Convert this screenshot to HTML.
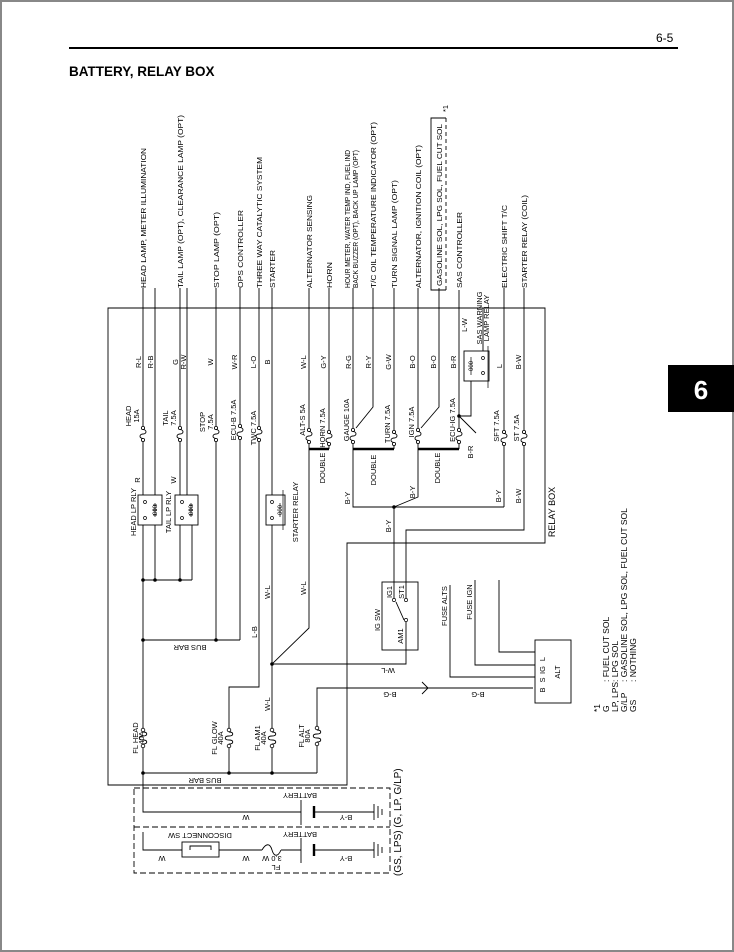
<!DOCTYPE html>
<html><head><meta charset="utf-8"><style>
html,body{margin:0;padding:0;background:#fff;}
svg{display:block;}
text{font-family:"Liberation Sans",Arial,sans-serif;font-size:7.5px;fill:#000;}
</style></head><body>
<svg width="734" height="952" viewBox="0 0 734 952" xmlns="http://www.w3.org/2000/svg">
<defs>
<g id="fz"><rect x="-3" y="-7" width="6" height="14" fill="#fff"/><circle cx="0" cy="-6" r="1.6" fill="#fff" stroke="#000" stroke-width="0.8"/><circle cx="0" cy="6" r="1.6" fill="#fff" stroke="#000" stroke-width="0.8"/><path d="M0,-4.4 C4,-4.4 4,0 0,0 C-4,0 -4,4.4 0,4.4" fill="none" stroke="#000" stroke-width="0.9"/></g>
<g id="fl"><rect x="-3" y="-9" width="6" height="18" fill="#fff"/><circle cx="0" cy="-8" r="1.8" fill="#fff" stroke="#000" stroke-width="0.8"/><circle cx="0" cy="8" r="1.8" fill="#fff" stroke="#000" stroke-width="0.8"/><path d="M0,-6 C5,-6 5,-2 0,-2 C-5,-2 -5,2 0,2 C5,2 5,6 0,6" fill="none" stroke="#000" stroke-width="0.9"/></g>
</defs>
<rect x="1" y="1" width="732" height="950" fill="none" stroke="#888" stroke-width="2"/>
<line x1="69" y1="48" x2="678" y2="48" stroke="#000" stroke-width="2"/>
<text x="656" y="42" style="font-size:12px">6-5</text>
<text x="69" y="76" style="font-size:13.5px;font-weight:bold">BATTERY, RELAY BOX</text>
<rect x="668" y="365" width="66" height="47" fill="#000"/>
<text x="701" y="399" text-anchor="middle" style="font-size:26px;font-weight:bold;fill:#fff">6</text>

<g fill="none" stroke="#000" stroke-width="0.9">
<path d="M545,308 H108 V785 H347 V543 H545 Z"/>
<path d="M143,288 V495 M143,525 V812 H301"/>
<path d="M155,288 V495 M155,525 V580"/>
<path d="M180,288 V495 M180,525 V580"/>
<path d="M187,288 V495 M192,525 V580"/>
<path d="M143,580 H192"/>
<path d="M216,288 V640"/>
<path d="M240,288 V640"/>
<path d="M143,640 H240"/>
<path d="M259,288 V687 H229 V773"/>
<path d="M272,288 V495 M272,525 V773"/>
<path d="M309,288 V628 L272,664 H406 V650"/>
<path d="M317,773 V688 H533"/>
<path d="M422,682 L428,688 L422,694"/>
<path d="M143,773 H317"/>
<path d="M329,288 V449"/>
<path d="M353,288 V507 H504"/>
<path d="M373,288 V407 L356,428"/>
<path d="M394,288 V449"/>
<path d="M418,288 V497 L394,507 V582"/>
<path d="M439,288 V407 L421,428"/>
<path d="M459,290 V449"/>
<path d="M471,381 V416 H459 M459,416 L476,433"/>
<path d="M483,308 V351"/>
<path d="M504,288 V507"/>
<path d="M524,288 V530 H406 V582"/>
<path d="M450,585 V677 H535 M475,580 V665 H535 M499,580 V652 H535"/>
<rect x="138" y="495" width="24" height="30"/>
<rect x="175" y="495" width="23" height="30"/>
<rect x="266" y="495" width="19" height="30"/>
<rect x="464" y="351" width="25" height="30"/>
<rect x="382" y="582" width="36" height="68"/>
<path d="M394,582 V598 M406,582 V598 M396,602 L404,620 M406,622 V650"/>
<rect x="535" y="640" width="36" height="63"/>
<path d="M446,118 H431 V290 H446"/>
<path d="M446,118 V290" stroke-dasharray="4,3"/>
<path d="M134,788 H390 V873 H134 Z M134,827 H390" stroke-dasharray="6,3"/>
<path d="M301,800 V825 M314,812 H374 M374,804 V820 M378,806 V818 M382,809 V815"/>
<path d="M143,832 V850 H182 M219,850 H262 M281,850 H301 M301,838 V863 M314,850 H374 M374,842 V858 M378,844 V856 M382,847 V853"/>
<rect x="182" y="842" width="37" height="15"/>
<path d="M190,850 V846 H211 V850"/>
<path d="M262,850 C266,843 270,843 272,850 C274,857 278,857 281,850"/>
</g>
<g stroke="#000" stroke-width="2.4">
<line x1="309" y1="449" x2="329" y2="449"/><line x1="353" y1="449" x2="394" y2="449"/><line x1="418" y1="449" x2="459" y2="449"/>
<line x1="314" y1="806" x2="314" y2="818"/><line x1="314" y1="844" x2="314" y2="856"/>
</g>
<g fill="#000">
<circle cx="143" cy="580" r="1.8"/><circle cx="155" cy="580" r="1.8"/><circle cx="180" cy="580" r="1.8"/>
<circle cx="143" cy="640" r="1.8"/><circle cx="216" cy="640" r="1.8"/>
<circle cx="272" cy="664" r="1.8"/><circle cx="394" cy="507" r="1.8"/><circle cx="459" cy="416" r="1.8"/>
<circle cx="143" cy="773" r="1.8"/><circle cx="229" cy="773" r="1.8"/><circle cx="272" cy="773" r="1.8"/>
</g>
<g fill="none" stroke="#000" stroke-width="0.7">
<circle cx="145" cy="502" r="1.5"/><circle cx="145" cy="518" r="1.5"/><path d="M155,503 V517"/><path d="M153,505 h4 M153,510 h4 M153,515 h4"/>
<circle cx="182" cy="502" r="1.5"/><circle cx="182" cy="518" r="1.5"/><path d="M191,503 V517"/><path d="M189,505 h4 M189,510 h4 M189,515 h4"/>
<circle cx="272" cy="502" r="1.5"/><circle cx="272" cy="518" r="1.5"/><path d="M280,503 V517 M283,490 V530"/>
<circle cx="483" cy="358" r="1.5"/><circle cx="483" cy="373" r="1.5"/><path d="M471,357 V375 M488,346 V388"/>
<circle cx="394" cy="600" r="1.6"/><circle cx="406" cy="600" r="1.6"/><circle cx="406" cy="620" r="1.6"/>
</g>
<text transform="translate(157,510) rotate(-90)" text-anchor="middle" style="font-size:6px">000</text>
<text transform="translate(193,510) rotate(-90)" text-anchor="middle" style="font-size:6px">000</text>
<text transform="translate(282,510) rotate(-90)" text-anchor="middle" style="font-size:6px">000</text>
<text transform="translate(473,366) rotate(-90)" text-anchor="middle" style="font-size:6px">000</text>

<use href="#fz" x="143" y="434"/><use href="#fz" x="180" y="434"/><use href="#fz" x="216" y="434"/>
<use href="#fz" x="240" y="432"/><use href="#fz" x="259" y="434"/><use href="#fz" x="309" y="436"/>
<use href="#fz" x="329" y="438"/><use href="#fz" x="353" y="436"/><use href="#fz" x="394" y="438"/>
<use href="#fz" x="418" y="436"/><use href="#fz" x="459" y="436"/><use href="#fz" x="504" y="438"/>
<use href="#fz" x="524" y="438"/>
<use href="#fl" x="143" y="738"/><use href="#fl" x="229" y="738"/><use href="#fl" x="272" y="738"/><use href="#fl" x="317" y="736"/>

<g>
<text transform="translate(146,288) rotate(-90)" textLength="140" lengthAdjust="spacingAndGlyphs">HEAD LAMP, METER ILLUMINATION</text>
<text transform="translate(183,288) rotate(-90)" textLength="173" lengthAdjust="spacingAndGlyphs">TAIL LAMP (OPT), CLEARANCE LAMP (OPT)</text>
<text transform="translate(219,288) rotate(-90)" textLength="76" lengthAdjust="spacingAndGlyphs">STOP LAMP (OPT)</text>
<text transform="translate(243,288) rotate(-90)" textLength="78" lengthAdjust="spacingAndGlyphs">OPS CONTROLLER</text>
<text transform="translate(262,288) rotate(-90)" textLength="131" lengthAdjust="spacingAndGlyphs">THREE WAY CATALYTIC SYSTEM</text>
<text transform="translate(275,288) rotate(-90)" textLength="38" lengthAdjust="spacingAndGlyphs">STARTER</text>
<text transform="translate(312,288) rotate(-90)" textLength="93" lengthAdjust="spacingAndGlyphs">ALTERNATOR SENSING</text>
<text transform="translate(332,288) rotate(-90)" textLength="26" lengthAdjust="spacingAndGlyphs">HORN</text>
<text transform="translate(350,288) rotate(-90)" textLength="138" lengthAdjust="spacingAndGlyphs">HOUR METER, WATER TEMP IND, FUEL IND</text>
<text transform="translate(358,288) rotate(-90)" textLength="138" lengthAdjust="spacingAndGlyphs">BACK BUZZER (OPT), BACK UP LAMP (OPT)</text>
<text transform="translate(376,288) rotate(-90)" textLength="166" lengthAdjust="spacingAndGlyphs">T/C OIL TEMPERATURE INDICATOR (OPT)</text>
<text transform="translate(397,288) rotate(-90)" textLength="108" lengthAdjust="spacingAndGlyphs">TURN SIGNAL LAMP (OPT)</text>
<text transform="translate(421,288) rotate(-90)" textLength="143" lengthAdjust="spacingAndGlyphs">ALTERNATOR, IGNITION COIL (OPT)</text>
<text transform="translate(442,286) rotate(-90)" textLength="162" lengthAdjust="spacingAndGlyphs">GASOLINE SOL, LPG SOL, FUEL CUT SOL</text>
<text transform="translate(448,112) rotate(-90)">*1</text>
<text transform="translate(462,288) rotate(-90)" textLength="76" lengthAdjust="spacingAndGlyphs">SAS CONTROLLER</text>
<text transform="translate(507,288) rotate(-90)" textLength="83" lengthAdjust="spacingAndGlyphs">ELECTRIC SHIFT T/C</text>
<text transform="translate(527,288) rotate(-90)" textLength="93" lengthAdjust="spacingAndGlyphs">STARTER RELAY (COIL)</text>
</g>
<g text-anchor="middle">
<text transform="translate(141,362) rotate(-90)">R-L</text>
<text transform="translate(153,362) rotate(-90)">R-B</text>
<text transform="translate(178,362) rotate(-90)">G</text>
<text transform="translate(186,362) rotate(-90)">R-W</text>
<text transform="translate(213,362) rotate(-90)">W</text>
<text transform="translate(237,362) rotate(-90)">W-R</text>
<text transform="translate(256,362) rotate(-90)">L-O</text>
<text transform="translate(270,362) rotate(-90)">B</text>
<text transform="translate(306,362) rotate(-90)">W-L</text>
<text transform="translate(326,362) rotate(-90)">G-Y</text>
<text transform="translate(351,362) rotate(-90)">R-G</text>
<text transform="translate(371,362) rotate(-90)">R-Y</text>
<text transform="translate(391,362) rotate(-90)">G-W</text>
<text transform="translate(415,362) rotate(-90)">B-O</text>
<text transform="translate(436,362) rotate(-90)">B-O</text>
<text transform="translate(456,362) rotate(-90)">B-R</text>
<text transform="translate(467,325) rotate(-90)">L-W</text>
<text transform="translate(502,366) rotate(-90)">L</text>
<text transform="translate(521,362) rotate(-90)">B-W</text>
<text transform="translate(482,318) rotate(-90)">SAS WARNING</text>
<text transform="translate(489,318) rotate(-90)">LAMP RELAY</text>
<text transform="translate(131,416) rotate(-90)">HEAD</text>
<text transform="translate(139,416) rotate(-90)">15A</text>
<text transform="translate(168,418) rotate(-90)">TAIL</text>
<text transform="translate(176,418) rotate(-90)">7.5A</text>
<text transform="translate(205,422) rotate(-90)">STOP</text>
<text transform="translate(213,422) rotate(-90)">7.5A</text>
<text transform="translate(236,420) rotate(-90)">ECU-B 7.5A</text>
<text transform="translate(256,428) rotate(-90)">TWC 7.5A</text>
<text transform="translate(305,420) rotate(-90)">ALT-S 5A</text>
<text transform="translate(325,428) rotate(-90)">HORN 7.5A</text>
<text transform="translate(349,420) rotate(-90)">GAUGE 10A</text>
<text transform="translate(390,424) rotate(-90)">TURN 7.5A</text>
<text transform="translate(414,422) rotate(-90)">IGN 7.5A</text>
<text transform="translate(455,420) rotate(-90)">ECU-IG 7.5A</text>
<text transform="translate(473,452) rotate(-90)">B-R</text>
<text transform="translate(499,426) rotate(-90)">SFT 7.5A</text>
<text transform="translate(519,428) rotate(-90)">ST 7.5A</text>
<text transform="translate(325,468) rotate(-90)">DOUBLE</text>
<text transform="translate(376,470) rotate(-90)">DOUBLE</text>
<text transform="translate(440,468) rotate(-90)">DOUBLE</text>
<text transform="translate(350,498) rotate(-90)">B-Y</text>
<text transform="translate(415,492) rotate(-90)">B-Y</text>
<text transform="translate(391,526) rotate(-90)">B-Y</text>
<text transform="translate(501,496) rotate(-90)">B-Y</text>
<text transform="translate(521,496) rotate(-90)">B-W</text>
<text transform="translate(555,512) rotate(-90)" style="font-size:9px">RELAY BOX</text>
<text transform="translate(136,512) rotate(-90)">HEAD LP RLY</text>
<text transform="translate(171,512) rotate(-90)">TAIL LP RLY</text>
<text transform="translate(140,480) rotate(-90)">R</text>
<text transform="translate(176,480) rotate(-90)">W</text>
<text transform="translate(298,512) rotate(-90)">STARTER RELAY</text>
<text transform="translate(270,592) rotate(-90)">W-L</text>
<text transform="translate(306,588) rotate(-90)">W-L</text>
<text transform="translate(257,632) rotate(-90)">L-B</text>
<text transform="translate(270,704) rotate(-90)">W-L</text>
<text transform="translate(380,620) rotate(-90)">IG SW</text>
<text transform="translate(392,592) rotate(-90)">IG1</text>
<text transform="translate(404,592) rotate(-90)">ST1</text>
<text transform="translate(403,636) rotate(-90)">AM1</text>
<text transform="translate(447,606) rotate(-90)">FUSE ALTS</text>
<text transform="translate(472,602) rotate(-90)">FUSE IGN</text>
<text transform="translate(545,659) rotate(-90)">L</text>
<text transform="translate(545,670) rotate(-90)">IG</text>
<text transform="translate(545,680) rotate(-90)">S</text>
<text transform="translate(545,690) rotate(-90)">B</text>
<text transform="translate(560,672) rotate(-90)">ALT</text>
<text transform="translate(142,738) rotate(-90)" dy="-4">FL HEAD</text>
<text transform="translate(140,738) rotate(-90)" dy="4">40A</text>
<text transform="translate(221,738) rotate(-90)" dy="-4">FL GLOW</text>
<text transform="translate(219,738) rotate(-90)" dy="4">40A</text>
<text transform="translate(264,738) rotate(-90)" dy="-4">FL AM1</text>
<text transform="translate(262,738) rotate(-90)" dy="4">40A</text>
<text transform="translate(308,736) rotate(-90)" dy="-4">FL ALT</text>
<text transform="translate(306,736) rotate(-90)" dy="4">80A</text>
<text transform="translate(190,645) rotate(180)">BUS BAR</text>
<text transform="translate(205,778) rotate(180)">BUS BAR</text>
<text transform="translate(388,668) rotate(180)">W-L</text>
<text transform="translate(390,692) rotate(180)">B-G</text>
<text transform="translate(478,692) rotate(180)">B-G</text>
<text transform="translate(300,793) rotate(180)">BATTERY</text>
<text transform="translate(246,815) rotate(180)">W</text>
<text transform="translate(346,815) rotate(180)">B-Y</text>
<text transform="translate(300,832) rotate(180)">BATTERY</text>
<text transform="translate(200,833) rotate(180)">DISCONNECT SW</text>
<text transform="translate(162,856) rotate(180)">W</text>
<text transform="translate(246,856) rotate(180)">W</text>
<text transform="translate(272,856) rotate(180)">3.0 W</text>
<text transform="translate(276,865) rotate(180)">FL</text>
<text transform="translate(346,856) rotate(180)">B-Y</text>
</g>
<text transform="translate(401,876) rotate(-90)" style="font-size:10px">(GS, LPS) (G, LP, G/LP)</text>
<g style="font-size:8.5px">
<text transform="translate(600,712) rotate(-90)" style="font-size:8.5px">*1</text>
<text transform="translate(609,712) rotate(-90)" style="font-size:8.5px">G<tspan x="30">: FUEL CUT SOL</tspan></text>
<text transform="translate(618,712) rotate(-90)" style="font-size:8.5px">LP, LPS<tspan x="30">: LPG SOL</tspan></text>
<text transform="translate(627,712) rotate(-90)" style="font-size:8.5px">G/LP<tspan x="30">: GASOLINE SOL, LPG SOL, FUEL CUT SOL</tspan></text>
<text transform="translate(636,712) rotate(-90)" style="font-size:8.5px">GS<tspan x="30">: NOTHING</tspan></text>
</g>
</svg>
</body></html>
